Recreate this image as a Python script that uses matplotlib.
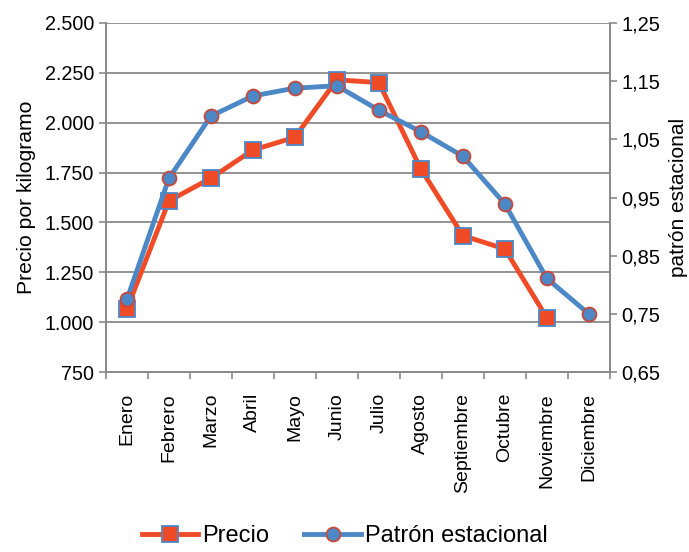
import matplotlib
matplotlib.use("Agg")
import matplotlib.pyplot as plt
from matplotlib import ticker
import numpy as np

plt.rcParams['font.family'] = ['Liberation Sans', 'DejaVu Sans']

# Data
meses = ['Enero', 'Febrero', 'Marzo', 'Abril', 'Mayo', 'Junio', 'Julio',
         'Agosto', 'Septiembre', 'Octubre', 'Noviembre', 'Diciembre']
precio = [1066, 1608, 1722, 1863, 1927, 2215, 2201, 1768, 1434, 1367, 1023, np.nan]
patron = [0.775, 0.983, 1.090, 1.1245, 1.138, 1.142, 1.100, 1.063, 1.021, 0.939, 0.811, 0.750]

rojo = '#EF4B26'
azul = '#4C87C6'
gris = '#8A8A8A'

fig = plt.figure(figsize=(6.89, 5.52), dpi=100)
ax = fig.add_axes([0.1538, 0.326, 0.7312, 0.6324])
ax2 = ax.twinx()

x = np.arange(len(meses))
ax.plot(x, precio, color=rojo, lw=3.5, marker='s', ms=11.5,
        mfc=rojo, mec=azul, mew=1.3, label='Precio')
ax2.plot(x, patron, color=azul, lw=3.5, marker='o', ms=10,
         mfc=azul, mec='#C8483A', mew=1.3, label='Patrón estacional')

ax.set_xlim(-0.5, 11.5)
ax.set_ylim(750, 2500)
ax.set_yticks(np.arange(750, 2501, 250))
ax.yaxis.set_major_formatter(ticker.FuncFormatter(lambda v, p: f'{int(v):,}'.replace(',', '.')))
ax2.set_ylim(0.65, 1.25)
ax2.set_yticks(np.arange(0.65, 1.2501, 0.10))
ax2.yaxis.set_major_formatter(ticker.FuncFormatter(lambda v, p: f'{v:.2f}'.replace('.', ',')))

ax.set_xticks(np.arange(-0.5, 11.6, 1))
ax.set_xticklabels([])
ax.set_xticks(x, minor=True)
ax.set_xticklabels(meses, minor=True, rotation=90, fontsize=14)
ax.tick_params(axis='x', which='minor', length=0, pad=15)
ax.tick_params(axis='x', which='major', length=5, color=gris, width=1.2)

ax.grid(axis='y', color=gris, lw=1.3)
ax.set_axisbelow(True)
for a in (ax, ax2):
    a.spines['top'].set_visible(False)
    for s in ('left', 'right', 'bottom'):
        a.spines[s].set_color(gris)
        a.spines[s].set_linewidth(1.3)
ax.tick_params(axis='y', length=5, color=gris, width=1.2, labelsize=14.2)
ax2.tick_params(axis='y', length=5, color=gris, width=1.2, labelsize=14.5)

ax.set_ylabel('Precio por kilogramo', fontsize=15.2, labelpad=6)
ax2.set_ylabel('patrón estacional', fontsize=15, labelpad=6)

h1, l1 = ax.get_legend_handles_labels()
h2, l2 = ax2.get_legend_handles_labels()
fig.legend(h1 + h2, l1 + l2, loc='lower center', bbox_to_anchor=(0.5, -0.03),
           ncol=2, frameon=False, fontsize=17, handlelength=2.4,
           columnspacing=1.5, handletextpad=0.15)

fig.savefig('out.png', dpi=100)
